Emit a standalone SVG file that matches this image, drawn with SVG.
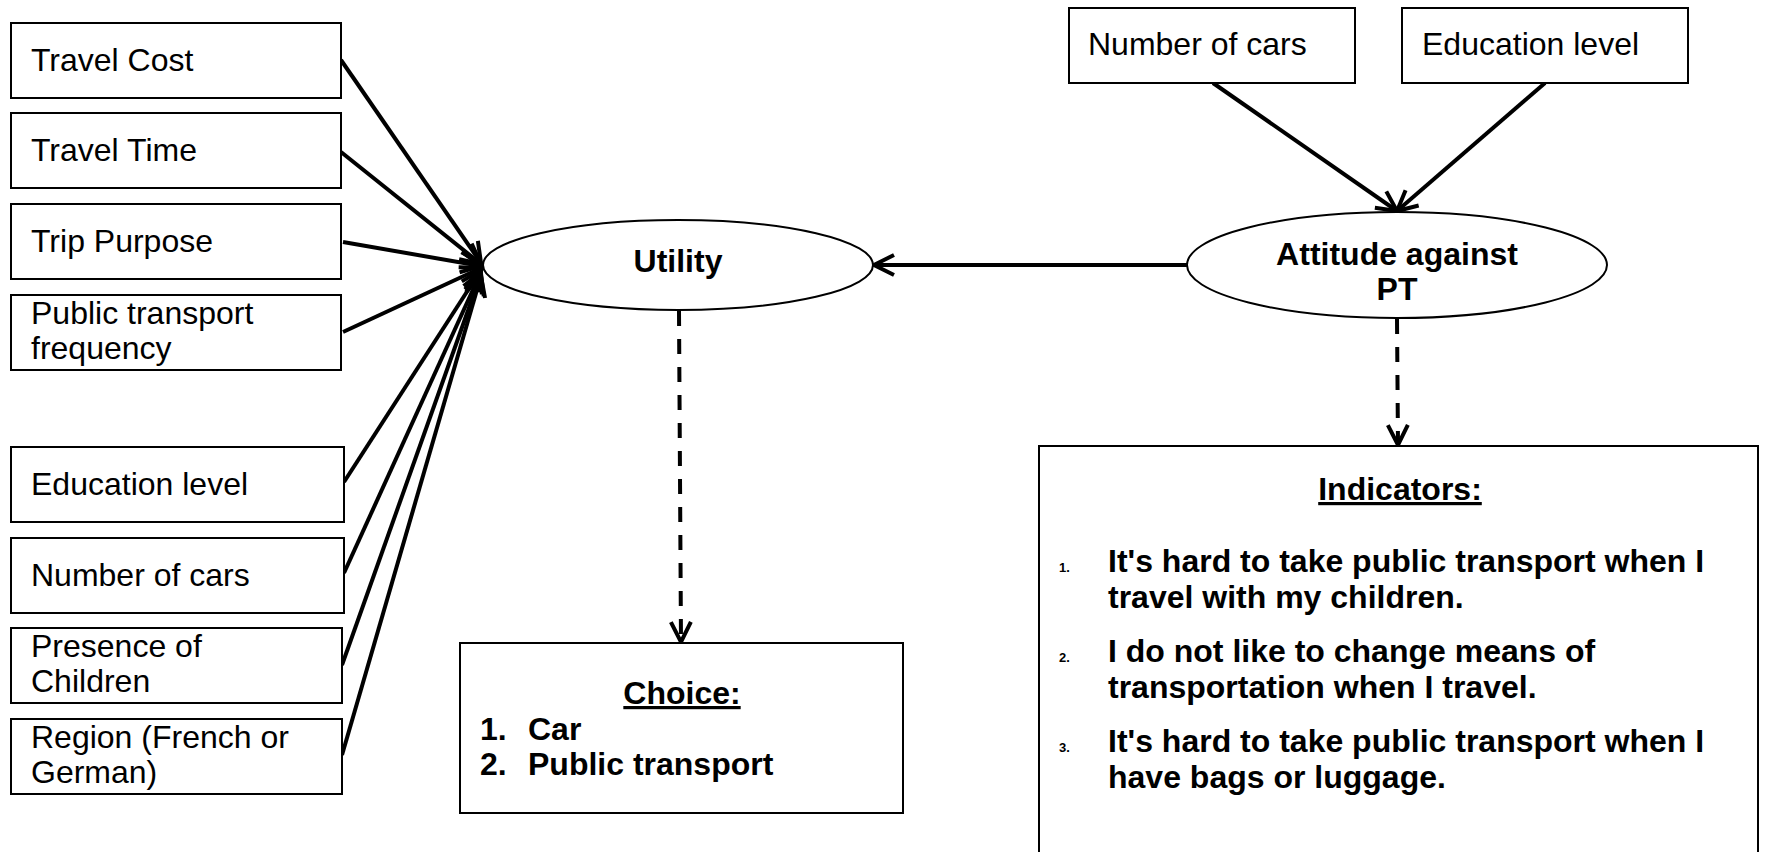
<svg xmlns="http://www.w3.org/2000/svg" width="1765" height="852" viewBox="0 0 1765 852">
<defs>
<style>
.box{fill:#fff;stroke:#000;stroke-width:2}
.ell{fill:#fff;stroke:#000;stroke-width:2}
.t{font-family:"Liberation Sans",Arial,sans-serif;font-size:32px;fill:#000}
.b{font-weight:bold}
.num{font-family:"Liberation Sans",Arial,sans-serif;font-size:13px;font-weight:bold;fill:#000}
.c{stroke:#000;stroke-width:4;fill:none}
.d{stroke-dasharray:15 13}
</style>
<marker id="arr" markerUnits="userSpaceOnUse" viewBox="-24 -14 28 28" refX="0" refY="0" markerWidth="28" markerHeight="28" orient="auto">
<path d="M-20,-10 L0,0 L-20,10" fill="none" stroke="#000" stroke-width="4" stroke-dasharray="none"/>
</marker>
</defs>
<rect width="1765" height="852" fill="#fff"/>

<g id="connectors">
<line class="c" x1="341" y1="60" x2="481" y2="263" marker-end="url(#arr)"/>
<line class="c" x1="341" y1="152" x2="481" y2="264" marker-end="url(#arr)"/>
<line class="c" x1="343" y1="242" x2="481" y2="266" marker-end="url(#arr)"/>
<line class="c" x1="343" y1="332" x2="481" y2="268" marker-end="url(#arr)"/>
<line class="c" x1="344" y1="482" x2="481" y2="270" marker-end="url(#arr)"/>
<line class="c" x1="344" y1="573" x2="481" y2="272" marker-end="url(#arr)"/>
<line class="c" x1="342" y1="665" x2="481" y2="274" marker-end="url(#arr)"/>
<line class="c" x1="342" y1="755" x2="481" y2="276" marker-end="url(#arr)"/>
<line class="c" x1="1213" y1="83" x2="1397" y2="211" marker-end="url(#arr)"/>
<line class="c" x1="1545" y1="83" x2="1397" y2="211" marker-end="url(#arr)"/>
<line class="c" x1="1187" y1="265" x2="874" y2="265" marker-end="url(#arr)"/>
<line class="c d" x1="679" y1="311" x2="681" y2="642" marker-end="url(#arr)"/>
<line class="c d" x1="1397" y1="319" x2="1398" y2="445" marker-end="url(#arr)"/>
</g>

<g id="travel-cost"><rect class="box" x="11" y="23" width="330" height="75"/><text class="t" x="31" y="71">Travel Cost</text></g>
<g id="travel-time"><rect class="box" x="11" y="113" width="330" height="75"/><text class="t" x="31" y="161">Travel Time</text></g>
<g id="trip-purpose"><rect class="box" x="11" y="204" width="330" height="75"/><text class="t" x="31" y="252">Trip Purpose</text></g>
<g id="pt-frequency"><rect class="box" x="11" y="295" width="330" height="75"/><text class="t" x="31" y="324">Public transport</text><text class="t" x="31" y="359">frequency</text></g>
<g id="education-left"><rect class="box" x="11" y="447" width="333" height="75"/><text class="t" x="31" y="495">Education level</text></g>
<g id="cars-left"><rect class="box" x="11" y="538" width="333" height="75"/><text class="t" x="31" y="586">Number of cars</text></g>
<g id="children"><rect class="box" x="11" y="628" width="331" height="75"/><text class="t" x="31" y="657">Presence of</text><text class="t" x="31" y="692">Children</text></g>
<g id="region"><rect class="box" x="11" y="719" width="331" height="75"/><text class="t" x="31" y="748">Region (French or</text><text class="t" x="31" y="783">German)</text></g>

<g id="utility"><ellipse class="ell" cx="678" cy="265" rx="195" ry="45"/><text class="t b" x="678" y="272" text-anchor="middle">Utility</text></g>

<g id="cars-top"><rect class="box" x="1069" y="8" width="286" height="75"/><text class="t" x="1088" y="55">Number of cars</text></g>
<g id="education-top"><rect class="box" x="1402" y="8" width="286" height="75"/><text class="t" x="1422" y="55">Education level</text></g>

<g id="attitude"><ellipse class="ell" cx="1397" cy="265" rx="210" ry="53"/><text class="t b" x="1397" y="265" text-anchor="middle">Attitude against</text><text class="t b" x="1397" y="300" text-anchor="middle">PT</text></g>

<g id="choice"><rect class="box" x="460" y="643" width="443" height="170"/>
<text class="t b" x="682" y="704" text-anchor="middle" text-decoration="underline">Choice:</text>
<text class="t b" x="480" y="740">1.</text><text class="t b" x="528" y="740">Car</text>
<text class="t b" x="480" y="775">2.</text><text class="t b" x="528" y="775">Public transport</text>
</g>

<g id="indicators"><rect class="box" x="1039" y="446" width="719" height="420"/>
<text class="t b" x="1400" y="500" text-anchor="middle" text-decoration="underline">Indicators:</text>
<text class="num" x="1059" y="572">1.</text>
<text class="t b" x="1108" y="572">It's hard to take public transport when I</text>
<text class="t b" x="1108" y="608">travel with my children.</text>
<text class="num" x="1059" y="662">2.</text>
<text class="t b" x="1108" y="662">I do not like to change means of</text>
<text class="t b" x="1108" y="698">transportation when I travel.</text>
<text class="num" x="1059" y="752">3.</text>
<text class="t b" x="1108" y="752">It's hard to take public transport when I</text>
<text class="t b" x="1108" y="788">have bags or luggage.</text>
</g>
</svg>
